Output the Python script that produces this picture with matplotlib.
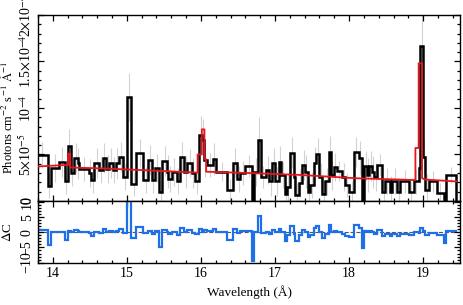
import numpy as np
import matplotlib
matplotlib.use("Agg")
import matplotlib.pyplot as plt
from matplotlib.ticker import MultipleLocator, FixedLocator

plt.rcParams['font.family'] = ['Liberation Serif', 'DejaVu Serif']
plt.rcParams['mathtext.fontset'] = 'stix'
plt.rcParams['font.size'] = 9.5

# bin edges (Angstrom)
wl_edges = [13.773, 13.931, 13.976, 14.088, 14.169, 14.201, 14.246, 14.282, 14.336, 14.358,
            14.485, 14.516, 14.561, 14.620, 14.674, 14.719, 14.764, 14.809, 14.854, 14.891,
            14.953, 14.999, 15.057, 15.124, 15.223, 15.291, 15.336, 15.381, 15.439, 15.480,
            15.539, 15.561, 15.607, 15.674, 15.719, 15.777, 15.818, 15.877, 15.922, 15.980,
            16.012, 16.043, 16.080, 16.161, 16.205, 16.358, 16.431, 16.485, 16.530, 16.597,
            16.688, 16.719, 16.769, 16.809, 16.877, 16.922, 16.958, 17.003, 17.047, 17.084,
            17.128, 17.161, 17.196, 17.250, 17.273, 17.318, 17.364, 17.408, 17.439, 17.476,
            17.520, 17.553, 17.597, 17.634, 17.678, 17.723, 17.759, 17.791, 17.836, 17.904,
            17.949, 18.003, 18.070, 18.128, 18.174, 18.205, 18.242, 18.273, 18.309, 18.341,
            18.377, 18.445, 18.489, 18.547, 18.580, 18.647, 18.692, 18.804, 18.872, 18.939,
            18.962, 19.003, 19.030, 19.074, 19.188, 19.277, 19.314, 19.449]

# flux, units of 1e-5 photons cm-2 s-1 A-1
flux = [4.9, 1.6, 3.5, 4.2, 2.1, 5.9, 3.0, 4.6, 4.05, 3.4,
        3.0, 2.25, 4.05, 3.3, 4.6, 3.4, 4.05, 3.3, 4.05, 4.75,
        2.6, 11.15, 1.8, 5.2, 2.25, 4.4, 2.25, 3.5, 1.0, 4.3,
        3.15, 2.4, 3.15, 2.1, 4.75, 3.15, 4.05, 3.0, 2.1, 7.1,
        6.6, 4.4, 3.9, 4.5, 3.15, 1.2, 4.05, 2.4, 3.0, 3.75,
        0.1, 3.15, 6.6, 2.6, 3.3, 2.1, 4.1, 2.1, 4.2, 2.8,
        0.8, 1.5, 5.2, 2.6, 0.65, 1.9, 3.9, 3.15, 1.0, 1.7,
        4.1, 5.1, 2.6, 0.8, 2.1, 5.3, 2.8, 3.7, 3.2, 2.6,
        1.7, 1.0, 5.3, 4.6, 0.1, 3.75, 2.8, 3.75, 3.15, 2.6,
        3.9, 1.0, 2.1, 1.0, 2.1, 1.0, 2.1, 1.0, 2.1, 3.5,
        16.7, 4.75, 1.2, 2.1, 0.9, 0.1, 2.8]

flux_err = [1.4, 1.3, 1.5, 1.6, 1.3, 1.8, 1.4, 1.6, 1.7, 1.3,
            1.5, 1.4, 1.6, 1.4, 1.6, 1.5, 1.6, 1.4, 1.7, 1.6,
            1.4, 2.6, 1.3, 1.5, 1.4, 1.6, 1.4, 1.5, 1.2, 1.6,
            1.8, 1.4, 1.5, 1.4, 1.6, 1.7, 1.5, 1.6, 1.4, 2.0,
            2.2, 1.8, 1.3, 1.7, 1.0, 1.2, 1.6, 1.4, 1.3, 1.2,
            1.1, 1.5, 2.4, 1.2, 1.5, 1.6, 1.6, 1.6, 1.7, 1.4,
            1.2, 1.5, 1.7, 1.7, 1.3, 1.5, 1.6, 1.8, 1.5, 1.4,
            1.7, 1.7, 1.5, 1.3, 1.5, 1.7, 1.6, 1.5, 1.1, 1.5,
            1.3, 1.2, 1.6, 1.8, 1.3, 1.6, 1.8, 1.6, 1.7, 1.5,
            1.2, 1.3, 1.4, 1.7, 1.4, 1.5, 1.2, 1.0, 1.3, 1.6,
            3.8, 1.8, 1.7, 1.1, 1.0, 1.5, 0.9]

# residuals (Delta C) per bin
dc = [0.9, -4.1, 0.1, 0, -2.7, 0.5, 0, 0.7, 0.3, 0,
      -0.2, -1.3, 0.1, -0.1, 1.0, 0.1, 0.5, 0, 0.3, 1.1,
      -0.3, 14, -1.9, 1.8, -0.4, 0.5, -0.5, 0.3, -4.8, 0.7,
      0, -0.5, 0.1, -0.8, 1.4, 0, 0.9, -0.2, -0.5, 1.1,
      0, 0.8, 0.3, 1.1, 0.1, -2.6, 1.0, -0.2, 0.3, 0.5,
      -9.6, 0, 5.3, -0.2, 0, -0.5, 0.8, 0, 1.0, 0.1,
      -3.0, -1.0, 2.0, -0.5, -3.0, -1.0, 0.7, 0, -1.5, -1.0,
      1.4, 2.0, 0, -1.9, -0.5, 2.3, 0, 0.3, 0, -0.5,
      -1.3, -1.5, 2.5, 1.4, -5.2, 0.5, 0, 0.5, 0, -0.5,
      0.9, -1.3, -0.5, -1.3, -0.5, -1.3, -0.5, -1.0, 0, -0.2,
      1.4, 0.5, -0.8, -0.2, -0.8, -3.5, 0.3]

# model curve
model_wl = [13.773, 14.178, 14.209, 14.209, 14.236, 14.236, 14.674, 15.259, 15.955, 15.955,
            16.012, 16.012, 16.047, 16.047, 16.070, 16.070, 16.665, 17.340, 18.080, 18.895,
            18.895, 18.939, 18.939, 18.985, 18.985, 19.030, 19.449]
model_flux = [3.7, 3.87, 3.87, 5.1, 5.1, 3.6, 3.5, 3.3, 3.05, 5.0,
              5.0, 7.7, 7.7, 4.5, 4.5, 3.15, 3.0, 2.8, 2.45, 2.25,
              5.7, 5.7, 14.8, 14.8, 2.45, 2.3, 2.1]

scale = 1e-5
edges = np.array(wl_edges)
f = np.array(flux) * scale
ferr = np.array(flux_err) * scale
centers = 0.5 * (edges[1:] + edges[:-1])

fig = plt.figure(figsize=(4.63, 3.05), dpi=100)
ax1 = fig.add_axes([0.082, 0.341, 0.912, 0.610])
ax2 = fig.add_axes([0.082, 0.139, 0.912, 0.202], sharex=ax1)

ax1.vlines(centers, f - ferr, f + ferr, color='#d2d2d2', lw=0.8, zorder=1)
ax1.stairs(f, edges, color='black', lw=1.8, zorder=2)
ax1.plot(model_wl, np.array(model_flux) * scale, color='#e8141c', lw=1.3, zorder=3)

ax2.axhline(0, color='#555555', lw=0.8, ls='--', zorder=1)
ax2.stairs(dc, edges, color='#1f6fe6', lw=1.6, zorder=2)

ax1.set_xlim(13.8, 19.5)
ax1.set_ylim(0, 2.0e-4)
ax2.set_ylim(-10, 10.3)

ax1.yaxis.set_major_locator(FixedLocator([0, 5e-5, 1e-4, 1.5e-4, 2e-4]))
ax1.set_yticklabels(['0', r'5$\times$10$^{-5}$', r'10$^{-4}$',
                     r'1.5$\times$10$^{-4}$', r'2$\times$10$^{-4}$'],
                    rotation=90, va='center')
ax1.yaxis.set_minor_locator(MultipleLocator(1e-5))

ax2.yaxis.set_major_locator(FixedLocator([-10, -5, 0, 5, 10]))
ax2.set_yticklabels(['\u221210', '\u22125', '0', '5', '10'], rotation=90, va='center')
ax2.yaxis.set_minor_locator(MultipleLocator(1))

ax2.xaxis.set_major_locator(MultipleLocator(1))
ax2.xaxis.set_minor_locator(MultipleLocator(0.2))

for ax in (ax1, ax2):
    ax.tick_params(which='both', direction='in', top=True, right=True, width=0.9,
                   labelsize=10)
    ax.tick_params(which='major', length=4.5, pad=3)
    ax.tick_params(which='minor', length=2.2)
    for s in ax.spines.values():
        s.set_linewidth(1.0)
plt.setp(ax1.get_xticklabels(), visible=False)

ax1.set_ylabel(r'Photons cm$^{-2}$ s$^{-1}$ $\mathrm{\AA}^{-1}$', fontsize=9)
ax2.set_ylabel(r'$\Delta$C')
ax2.set_xlabel('Wavelength (\u00c5)')
ax1.yaxis.set_label_coords(-0.054, 0.45)
ax2.yaxis.set_label_coords(-0.056, 0.5)

fig.savefig('out.png', dpi=100)
